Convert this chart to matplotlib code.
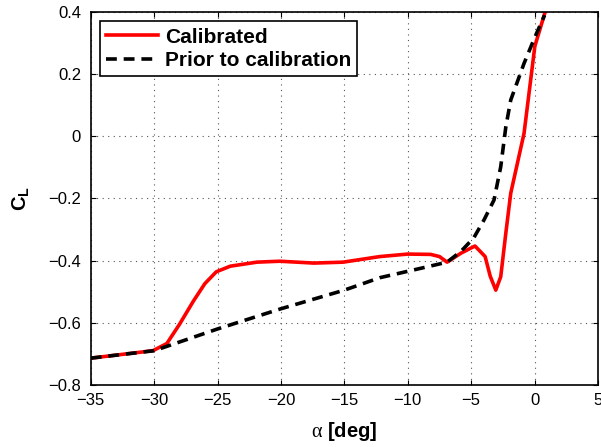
import matplotlib.pyplot as plt

plt.rcParams['font.family'] = ['Liberation Sans', 'DejaVu Sans']
plt.rcParams['mathtext.fontset'] = 'custom'
plt.rcParams['mathtext.rm'] = 'Liberation Serif'
plt.rcParams['mathtext.bf'] = 'Liberation Sans:bold'
plt.rcParams['axes.unicode_minus'] = True

# calibrated curve
alpha_cal = [-35.0, -30.1, -29.0, -28.0, -26.9, -26.0, -25.1, -24.0, -21.9, -20.1,
             -17.4, -15.1, -12.2, -10.0, -8.2, -7.5, -6.9, -5.8, -4.7, -3.9,
             -3.5, -3.06, -2.67, -2.27, -1.88, -0.83, 0.02, 0.83]
cl_cal = [-0.714, -0.690, -0.667, -0.605, -0.530, -0.474, -0.436, -0.418, -0.405, -0.402,
          -0.408, -0.405, -0.387, -0.379, -0.380, -0.387, -0.405, -0.376, -0.353, -0.387,
          -0.450, -0.495, -0.452, -0.312, -0.183, 0.010, 0.290, 0.400]

# prior to calibration
alpha_pri = [-35.0, -30.0, -25.0, -20.0, -15.0, -12.2, -9.0, -6.9, -5.8, -4.8,
             -4.0, -3.2, -2.67, -2.27, -1.88, -0.83, 0.03, 0.79]
cl_pri = [-0.714, -0.690, -0.620, -0.555, -0.495, -0.455, -0.425, -0.405, -0.370, -0.327,
          -0.270, -0.205, -0.098, 0.030, 0.117, 0.235, 0.320, 0.390]

yticks = [-0.8, -0.6, -0.4, -0.2, 0, 0.2, 0.4]
ylabels = ['\u22120.8', '\u22120.6', '\u22120.4', '\u22120.2', '0', '0.2', '0.4']

fig = plt.figure(figsize=(6.01, 4.47), dpi=100)
ax = fig.add_axes([0.151, 0.139, 0.844, 0.834])

ax.plot(alpha_cal, cl_cal, color='red', lw=2.6, label='Calibrated')
ax.plot(alpha_pri, cl_pri, color='black', lw=2.6, ls=(0, (3, 1.9)), label='Prior to calibration')

ax.set_xlim(-35, 5)
ax.set_ylim(-0.8, 0.4)
ax.set_xticks(range(-35, 6, 5))
ax.set_yticks(yticks)
ax.set_yticklabels(ylabels)
ax.tick_params(direction='in', top=True, right=True, labelsize=12, length=3.5, width=0.8)
ax.tick_params(axis='x', pad=6)
ax.tick_params(axis='y', pad=7)
ax.grid(True, ls=(0, (1, 4)), color='#555555', lw=0.8)
for s in ax.spines.values():
    s.set_linewidth(1.2)

ax.set_xlabel(r'$\mathrm{\alpha}$ [deg]', fontsize=14.5, fontweight='bold')
ax.xaxis.set_label_coords(0.5, -0.095)
ax.set_ylabel(r'$\mathbf{C}_\mathbf{L}$', fontsize=14.5)
ax.yaxis.set_label_coords(-0.115, 0.5)

leg = ax.legend(loc='upper left', prop={'weight': 'bold', 'size': 15},
                fancybox=False, edgecolor='black', framealpha=1,
                handlelength=2.5, handletextpad=0.3, borderpad=0.3,
                labelspacing=0.2, borderaxespad=0.45)
leg.get_frame().set_linewidth(1.2)

fig.savefig('out.png', dpi=100)
